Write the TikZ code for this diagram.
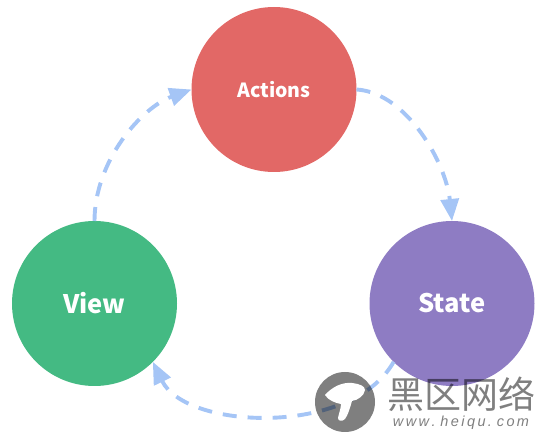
\documentclass[tikz,border=0pt]{standalone}
\usepackage{fontspec}
\setmainfont{Noto Sans CJK SC}
\newfontfamily\markfont{Liberation Sans}
\usepackage{xcolor}
\usepackage{tikz}
\usetikzlibrary{arrows.meta, positioning}

\definecolor{actionsred}{HTML}{E26866}
\definecolor{viewgreen}{HTML}{44BA83}
\definecolor{statepurple}{HTML}{8E7CC3}
\definecolor{flowblue}{HTML}{A5C5F6}

\tikzset{
  blob/.style={circle, minimum size=165pt, inner sep=0pt, outer sep=0pt, text=white},
  flow/.style={line width=3.9pt, draw=flowblue, dash pattern=on 14pt off 11pt,
    -{Triangle[length=22pt, width=18pt, fill=flowblue]}},
  marktext/.style={inner sep=0pt, text=black, text opacity=0.5}
}

\begin{document}
\begin{tikzpicture}[x=1pt, y=1pt]
    \useasboundingbox (0,0) rectangle (547,437);
    % Cercles
    \node[blob, fill=actionsred, font=\bfseries\fontsize{19.5}{24}\selectfont] (actions) at (274,347.5) {\raisebox{-1pt}{Actions}};
    \node[blob, fill=viewgreen, font=\bfseries\fontsize{25.5}{30}\selectfont] (view) at (94.5,133.5) {\raisebox{-1.5pt}{View}};
    \node[blob, fill=statepurple, font=\bfseries\fontsize{25.5}{30}\selectfont] (state) at (452,133.5) {\raisebox{-1.5pt}{State}};
    % Fleches
    \draw[flow] (actions.east) .. controls +(50,-3) and +(-6,58) .. (state.north);
    \draw[flow] (state.225) .. controls +(-42,-75) and +(33,-68) .. (view.-45);
    \draw[flow] (view.north) .. controls +(0,60) and +(-50,-18) .. (actions.west);
    % Filigrane
    \fill[black, opacity=0.5] (345,35) circle (30pt);
    \fill[white] (325,42) .. controls (332,50) and (342,55) .. (352,54)
      .. controls (360,53) and (365,51) .. (365,47)
      .. controls (364,41) and (358,37) .. (352,36)
      .. controls (350,29) and (348,22) .. (345,18)
      .. controls (342,15) and (338,16) .. (338,19)
      .. controls (339,24) and (341,29) .. (341,33)
      .. controls (335,34) and (328,37) .. (325,42) -- cycle;
    \node[marktext, font=\fontsize{37}{40}\selectfont] (markname) at (461,43) {黑区网络};
    \node[marktext, font=\markfont\itshape\fontsize{14.5}{18}\selectfont, below=4pt of markname] (markurl) {w\,w\,w\,.\,\,h\,e\,i\,q\,u\,.\,\,c\,o\,m};
\end{tikzpicture}
\end{document}
